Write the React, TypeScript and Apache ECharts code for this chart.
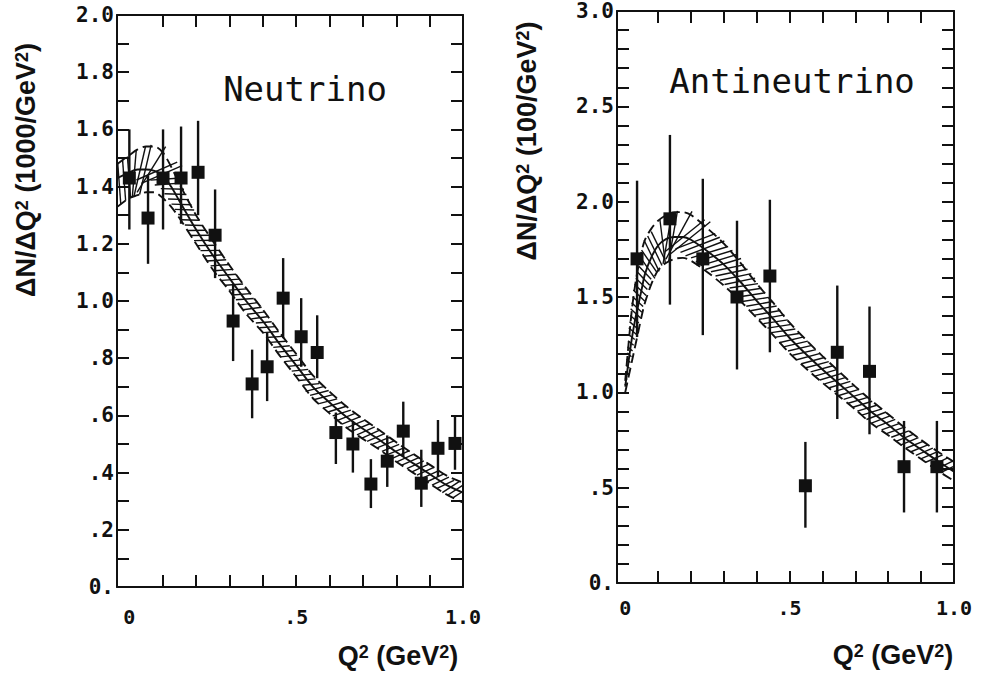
import React, { useEffect, useRef } from "react";
import * as echarts from "echarts";

// ---------------- Neutrino panel data ----------------
const nuQ2 = [0.0, 0.056, 0.101, 0.155, 0.206, 0.257, 0.311, 0.368, 0.413, 0.461, 0.515, 0.563, 0.619, 0.67, 0.724, 0.773, 0.821, 0.875, 0.925, 0.976];
const nuY = [1.43, 1.29, 1.43, 1.43, 1.45, 1.23, 0.93, 0.71, 0.77, 1.01, 0.875, 0.82, 0.54, 0.5, 0.36, 0.44, 0.545, 0.363, 0.485, 0.502];
const nuHi = [1.6, 1.44, 1.6, 1.61, 1.63, 1.39, 1.06, 0.83, 0.89, 1.15, 1.01, 0.95, 0.61, 0.58, 0.447, 0.53, 0.648, 0.48, 0.584, 0.6];
const nuLo = [1.25, 1.13, 1.25, 1.27, 1.3, 1.08, 0.79, 0.59, 0.65, 0.87, 0.77, 0.73, 0.43, 0.4, 0.276, 0.35, 0.456, 0.28, 0.386, 0.41];

const nuBandX = [-0.035, 0, 0.025, 0.05, 0.075, 0.1, 0.125, 0.15, 0.2, 0.25, 0.3, 0.35, 0.4, 0.45, 0.5, 0.55, 0.6, 0.65, 0.7, 0.75, 0.8, 0.85, 0.9, 0.95, 1.0];
const nuCenter = [1.43, 1.45, 1.46, 1.46, 1.455, 1.44, 1.4, 1.35, 1.25, 1.16, 1.08, 1.0, 0.93, 0.85, 0.775, 0.7, 0.645, 0.595, 0.553, 0.514, 0.472, 0.433, 0.395, 0.357, 0.33];
const nuUpper = [1.48, 1.51, 1.53, 1.54, 1.54, 1.52, 1.47, 1.41, 1.3, 1.21, 1.125, 1.045, 0.97, 0.89, 0.815, 0.74, 0.683, 0.632, 0.588, 0.548, 0.506, 0.466, 0.428, 0.39, 0.365];
const nuLower = [1.33, 1.36, 1.37, 1.38, 1.38, 1.36, 1.33, 1.29, 1.2, 1.11, 1.035, 0.955, 0.89, 0.81, 0.735, 0.66, 0.607, 0.558, 0.518, 0.48, 0.438, 0.4, 0.362, 0.324, 0.295];

const nuYTickVals = [0, 0.2, 0.4, 0.6, 0.8, 1.0, 1.2, 1.4, 1.6, 1.8, 2.0];
const nuYTickLabels = ["0.", ".2", ".4", ".6", ".8", "1.0", "1.2", "1.4", "1.6", "1.8", "2.0"];
const nuYMinor = [0.1, 0.2, 0.3, 0.4, 0.5, 0.6, 0.7, 0.8, 0.9, 1.0, 1.1, 1.2, 1.3, 1.4, 1.5, 1.6, 1.7, 1.8, 1.9];

// ---------------- Antineutrino panel data ----------------
const anQ2 = [0.036, 0.136, 0.236, 0.34, 0.44, 0.548, 0.645, 0.743, 0.848, 0.948];
const anY = [1.7, 1.91, 1.7, 1.5, 1.61, 0.51, 1.21, 1.11, 0.61, 0.61];
const anHi = [2.11, 2.35, 2.12, 1.9, 2.01, 0.74, 1.56, 1.45, 0.85, 0.85];
const anLo = [1.29, 1.46, 1.3, 1.12, 1.21, 0.29, 0.86, 0.78, 0.37, 0.37];

const anBandX = [0, 0.01, 0.02, 0.03, 0.04, 0.05, 0.06, 0.08, 0.1, 0.125, 0.15, 0.175, 0.2, 0.25, 0.3, 0.35, 0.4, 0.45, 0.5, 0.55, 0.6, 0.65, 0.7, 0.75, 0.8, 0.85, 0.9, 0.95, 1.0];
const anCenter = [1.03, 1.16, 1.28, 1.38, 1.46, 1.54, 1.62, 1.71, 1.77, 1.805, 1.815, 1.815, 1.8, 1.74, 1.67, 1.58, 1.48, 1.385, 1.285, 1.2, 1.12, 1.045, 0.97, 0.895, 0.83, 0.76, 0.7, 0.64, 0.584];
const anUpper = [1.06, 1.25, 1.43, 1.56, 1.66, 1.74, 1.8, 1.86, 1.9, 1.93, 1.945, 1.945, 1.93, 1.86, 1.78, 1.68, 1.57, 1.47, 1.365, 1.275, 1.19, 1.11, 1.03, 0.955, 0.885, 0.815, 0.75, 0.69, 0.635];
const anLower = [1.0, 1.08, 1.16, 1.24, 1.32, 1.4, 1.47, 1.57, 1.64, 1.68, 1.7, 1.705, 1.69, 1.63, 1.56, 1.48, 1.39, 1.3, 1.205, 1.125, 1.05, 0.98, 0.91, 0.835, 0.775, 0.71, 0.65, 0.59, 0.535];

const anYTickVals = [0, 0.5, 1.0, 1.5, 2.0, 2.5, 3.0];
const anYTickLabels = ["0.", ".5", "1.0", "1.5", "2.0", "2.5", "3.0"];
const anYMinor = [0.1, 0.2, 0.3, 0.4, 0.5, 0.6, 0.7, 0.8, 0.9, 1.0, 1.1, 1.2, 1.3, 1.4, 1.5, 1.6, 1.7, 1.8, 1.9, 2.0, 2.1, 2.2, 2.3, 2.4, 2.5, 2.6, 2.7, 2.8, 2.9];

// shared x ticks
const xTickVals = [0, 0.5, 1.0];
const xTickLabels = ["0", ".5", "1.0"];
const xMinor = [0.1, 0.2, 0.3, 0.4, 0.5, 0.6, 0.7, 0.8, 0.9];

const MONO = "DejaVu Sans Mono";
const SANS = "Liberation Sans";
const INK = "#111";

function labelFor(vals: number[], labels: string[]) {
  return (v: number) => {
    for (let i = 0; i < vals.length; i++) if (Math.abs(vals[i] - v) < 1e-6) return labels[i];
    return "";
  };
}

function mainX(gridIndex: number, min: number, margin: number) {
  return {
    gridIndex, type: "value", min, max: 1.0, position: "bottom",
    axisLine: { show: true, onZero: false, lineStyle: { color: INK, width: 2 } },
    axisTick: { show: true, inside: true, length: 12, customValues: xMinor, lineStyle: { color: INK, width: 2 } },
    axisLabel: { show: true, customValues: xTickVals, formatter: labelFor(xTickVals, xTickLabels), margin, fontFamily: MONO, fontWeight: "bold", fontSize: 20, color: INK },
    splitLine: { show: false },
  };
}
function topX(gridIndex: number, min: number) {
  return {
    gridIndex, type: "value", min, max: 1.0, position: "top",
    axisLine: { show: true, onZero: false, lineStyle: { color: INK, width: 2 } },
    axisTick: { show: true, inside: true, length: 12, customValues: xMinor, lineStyle: { color: INK, width: 2 } },
    axisLabel: { show: false },
    splitLine: { show: false },
  };
}
function mainY(gridIndex: number, max: number, minor: number[], vals: number[], labels: string[]) {
  return {
    gridIndex, type: "value", min: 0, max, position: "left",
    axisLine: { show: true, onZero: false, lineStyle: { color: INK, width: 2 } },
    axisTick: { show: true, inside: true, length: 12, customValues: minor, lineStyle: { color: INK, width: 2 } },
    axisLabel: { show: true, customValues: vals, formatter: labelFor(vals, labels), margin: 3, fontFamily: MONO, fontWeight: "bold", fontSize: 21, color: INK, align: "right" },
    splitLine: { show: false },
  };
}
function rightY(gridIndex: number, max: number, minor: number[]) {
  return {
    gridIndex, type: "value", min: 0, max, position: "right",
    axisLine: { show: true, onZero: false, lineStyle: { color: INK, width: 2 } },
    axisTick: { show: true, inside: true, length: 12, customValues: minor, lineStyle: { color: INK, width: 2 } },
    axisLabel: { show: false },
    splitLine: { show: false },
  };
}

function errorBars(axis: number, xs: number[], lo: number[], hi: number[]) {
  return {
    type: "custom", xAxisIndex: axis, yAxisIndex: axis, silent: true, z: 4,
    data: xs.map((x, i) => [x, lo[i], hi[i]]),
    renderItem: (params: any, api: any) => {
      const p1 = api.coord([api.value(0), api.value(1)]);
      const p2 = api.coord([api.value(0), api.value(2)]);
      return { type: "line", shape: { x1: p1[0], y1: p1[1], x2: p2[0], y2: p2[1] }, style: { stroke: INK, lineWidth: 2.4 } };
    },
  };
}

function hatch(axis: number, bx: number[], lo: number[], hi: number[]) {
  return {
    type: "custom", xAxisIndex: axis, yAxisIndex: axis, silent: true, z: 2, clip: true,
    data: [[bx[0], lo[0]]],
    renderItem: (params: any, api: any) => {
      const up = bx.map((x, i) => api.coord([x, hi[i]]));
      const dn = bx.map((x, i) => api.coord([x, lo[i]]));
      const mid = up.map((p: number[], i: number) => [(p[0] + dn[i][0]) / 2, (p[1] + dn[i][1]) / 2]);
      const children: any[] = [];
      const spacing = 6;
      const ang = (32 * Math.PI) / 180;
      const c = Math.cos(ang), s = Math.sin(ang);
      let acc = 0, next = 2;
      for (let i = 0; i < mid.length - 1; i++) {
        const a = mid[i], b = mid[i + 1];
        const dx = b[0] - a[0], dy = b[1] - a[1];
        const L = Math.hypot(dx, dy);
        if (L < 1e-6) continue;
        while (next <= acc + L) {
          const t = (next - acc) / L;
          const cx = a[0] + dx * t, cy = a[1] + dy * t;
          const uy = up[i][1] + (up[i + 1][1] - up[i][1]) * t;
          const ly = dn[i][1] + (dn[i + 1][1] - dn[i][1]) * t;
          const hv = (ly - uy) / 2;
          const tx = dx / L, ty = dy / L;
          const w = hv * Math.abs(tx);
          let nx = -ty, ny = tx;
          if (ny > 0) { nx = -nx; ny = -ny; }
          const rx = nx * c - ny * s, ry = nx * s + ny * c;
          const len = w / Math.max(0.35, c);
          children.push({ type: "line", shape: { x1: cx - rx * len, y1: cy - ry * len, x2: cx + rx * len, y2: cy + ry * len }, style: { stroke: INK, lineWidth: 1.4 } });
          next += spacing;
        }
        acc += L;
      }
      return { type: "group", children };
    },
  };
}

function bandLines(axis: number, bx: number[], center: number[], upper: number[], lower: number[]) {
  const mk = (ys: number[], dashed: boolean) => ({
    type: "line", xAxisIndex: axis, yAxisIndex: axis, silent: true, z: 3,
    data: bx.map((x, i) => [x, ys[i]]), showSymbol: false, smooth: 0.3,
    lineStyle: { color: INK, width: 1.9, type: dashed ? [10, 5] : "solid", opacity: 1 },
  });
  return [mk(center, false), mk(upper, true), mk(lower, true)];
}

function points(axis: number, xs: number[], ys: number[]) {
  return {
    type: "scatter", xAxisIndex: axis, yAxisIndex: axis, z: 5, silent: true,
    symbol: "rect", symbolSize: 13, itemStyle: { color: INK, opacity: 1 },
    data: xs.map((x, i) => [x, ys[i]]),
  };
}

const richStyles = {
  b: { fontFamily: SANS, fontWeight: "bold", fontSize: 27, fill: INK },
  s: { fontFamily: SANS, fontWeight: "bold", fontSize: 18, fill: INK, verticalAlign: "top" },
};

export default function App() {
  const ref = useRef<HTMLDivElement>(null);
  useEffect(() => {
    if (!ref.current) return;
    const chart = echarts.init(ref.current, null, { renderer: "svg" });
    const vTitle = (text: string, x: number, y: number) => ({
      type: "text", x, y, rotation: Math.PI / 2,
      style: { text, fill: INK, align: "center", verticalAlign: "middle", rich: richStyles },
    });
    const hTitle = (text: string, x: number, y: number) => ({
      type: "text", x, y,
      style: { text, fill: INK, align: "center", verticalAlign: "middle", rich: richStyles },
    });
    chart.setOption({
      animation: false,
      backgroundColor: "#fff",
      grid: [
        { left: 117, top: 15, width: 346, height: 572 },
        { left: 617, top: 11, width: 337, height: 572 },
      ],
      xAxis: [mainX(0, -0.037, 20), topX(0, -0.037), mainX(1, -0.025, 15), topX(1, -0.025)],
      yAxis: [
        mainY(0, 2.0, nuYMinor, nuYTickVals, nuYTickLabels), rightY(0, 2.0, nuYMinor),
        mainY(1, 3.0, anYMinor, anYTickVals, anYTickLabels), rightY(1, 3.0, anYMinor),
      ],
      series: [
        hatch(0, nuBandX, nuLower, nuUpper),
        ...bandLines(0, nuBandX, nuCenter, nuUpper, nuLower),
        errorBars(0, nuQ2, nuLo, nuHi),
        points(0, nuQ2, nuY),
        hatch(2, anBandX, anLower, anUpper),
        ...bandLines(2, anBandX, anCenter, anUpper, anLower),
        errorBars(2, anQ2, anLo, anHi),
        points(2, anQ2, anY),
      ],
      graphic: [
        { type: "text", x: 305, y: 89, style: { text: "Neutrino", fill: INK, font: `34px "${MONO}"`, align: "center", verticalAlign: "middle" } },
        { type: "text", x: 792, y: 81, style: { text: "Antineutrino", fill: INK, font: `34px "${MONO}"`, align: "center", verticalAlign: "middle" } },
        vTitle("{b|ΔN/ΔQ}{s|2}{b| (1000/GeV}{s|2}{b|)}", 26, 170),
        vTitle("{b|ΔN/ΔQ}{s|2}{b| (100/GeV}{s|2}{b|)}", 527, 141),
        hTitle("{b|Q}{s|2}{b| (GeV}{s|2}{b|)}", 398, 656),
        hTitle("{b|Q}{s|2}{b| (GeV}{s|2}{b|)}", 893, 655),
      ],
    });
    return () => chart.dispose();
  }, []);
  return <div ref={ref} style={{ position: "absolute", left: 0, top: 0, width: 984, height: 677, background: "#fff" }} />;
}
